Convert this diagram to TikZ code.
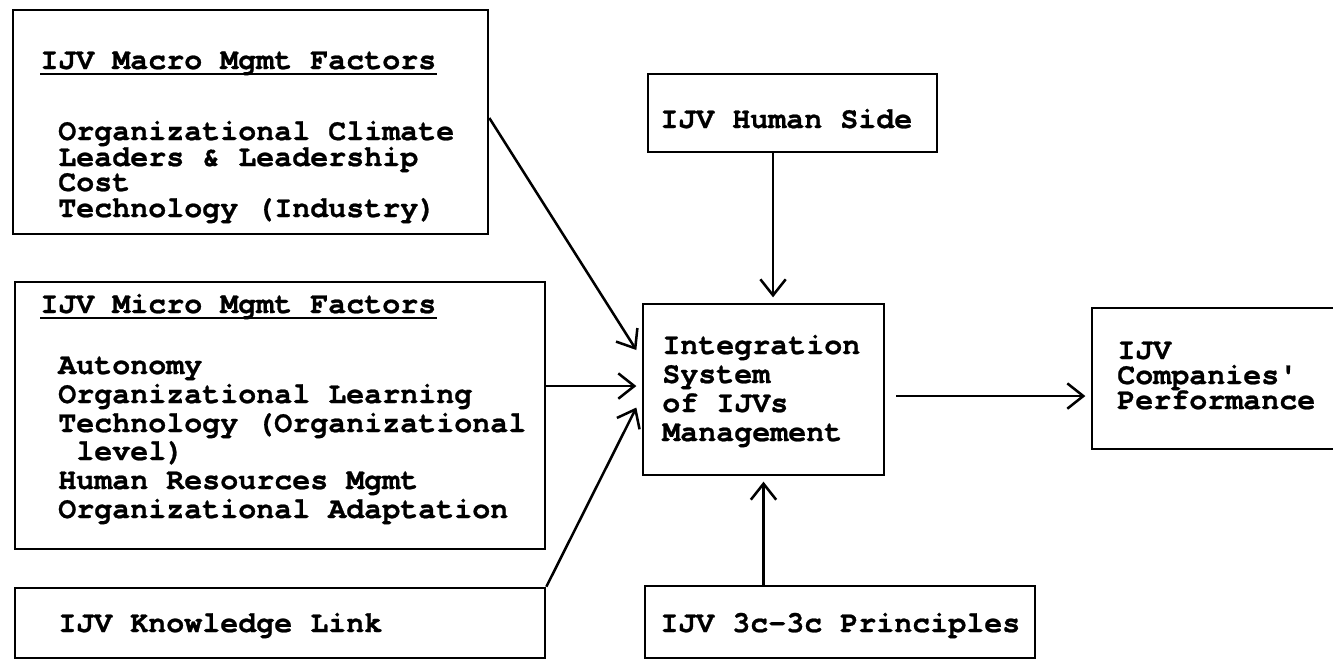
\documentclass[tikz,border=0pt]{standalone}
\usepackage{fontspec}
\newfontfamily\typefont{texgyrecursor}[Extension=.otf, UprightFont=*-regular, BoldFont=*-bold, BoldFeatures={FakeBold=0.8}]
\usetikzlibrary{arrows.meta}

\tikzset{
  ijvbox/.style={draw, line width=2pt, inner sep=0pt},
  txt/.style={anchor=base west, inner sep=0pt, font=\typefont\bfseries\fontsize{22.5pt}{26pt}\selectfont},
  arr/.style={line width=1.9pt, -{Straight Barb[length=12pt,width=19pt]}},
  uline/.style={line width=1.6pt}
}

\begin{document}
\begin{tikzpicture}[x=0.75pt,y=-0.75pt]

\clip (0,0) rectangle (1333,661);

% Boxes
\node[ijvbox, minimum width=356.25pt, minimum height=168pt] (macro) at (250.5,122) {};
\node[ijvbox, minimum width=397.5pt, minimum height=200.25pt] (micro) at (280,415.5) {};
\node[ijvbox, minimum width=397.5pt, minimum height=52.5pt] (knowledge) at (280,623) {};
\node[ijvbox, minimum width=216.75pt, minimum height=58.5pt] (human) at (792.5,113) {};
\node[ijvbox, minimum width=180.75pt, minimum height=128.25pt] (integ) at (763.5,389.5) {};
\node[ijvbox, minimum width=292.5pt, minimum height=54pt] (principles) at (840,622) {};
\node[ijvbox, minimum width=201pt, minimum height=105.75pt] (perf) at (1226,378.5) {};

% Macro factors
\node[txt] (mactitle) at (40,69) {IJV Macro Mgmt Factors};
\draw[uline] ([yshift=-4pt]mactitle.base west) -- ([yshift=-4pt]mactitle.base east);
\node[txt] (mac1) at (58,140) {Organizational Climate};
\node[txt] (mac2) at (58,166) {Leaders \& Leadership};
\node[txt] (mac3) at (58,191) {Cost};
\node[txt] (mac4) at (58,217) {Technology (Industry)};

% Micro factors
\node[txt] (mictitle) at (40,313) {IJV Micro Mgmt Factors};
\draw[uline] ([yshift=-4pt]mictitle.base west) -- ([yshift=-4pt]mictitle.base east);
\node[txt] (mic1) at (58,374) {Autonomy};
\node[txt] (mic2) at (58,403) {Organizational Learning};
\node[txt] (mic3) at (58,432) {Technology (Organizational};
\node[txt] (mic4) at (76,460) {level)};
\node[txt] (mic5) at (58,489) {Human Resources Mgmt};
\node[txt] (mic6) at (58,518) {Organizational Adaptation};

% Other labels
\node[txt] (knowtext) at (58,632) {IJV Knowledge Link};
\node[txt] (humantext) at (660,128) {IJV Human Side};
\node[txt] (princtext) at (660,632) {IJV 3c-3c Principles};

\node[txt] (integ1) at (662,354) {Integration};
\node[txt] (integ2) at (662,383) {System};
\node[txt] (integ3) at (662,412) {of IJVs};
\node[txt] (integ4) at (662,441) {Management};

\node[txt] (perf1) at (1117,359) {IJV};
\node[txt] (perf2) at (1117,384) {Companies'};
\node[txt] (perf3) at (1117,409) {Performance};

% Arrows
\draw[arr] ([yshift=3pt]macro.east) -- ([xshift=-4pt,yshift=29.6pt]integ.west);
\draw[arr] ([yshift=2.6pt]integ.west -| micro.east) -- ([xshift=-4pt,yshift=2.6pt]integ.west);
\draw[arr] (knowledge.north east) -- ([xshift=-4pt,yshift=-13.5pt]integ.west);
\draw[arr, shorten >=4pt] ([xshift=-14.6pt]human.south) -- ([xshift=-14.6pt]human.south |- integ.north);
\draw[arr, shorten >=4pt] (integ.south |- principles.north) -- (integ.south);
\draw[arr, shorten >=4pt] ([xshift=8pt,yshift=-4.9pt]integ.east) -- ([yshift=-4.9pt]integ.east -| perf.west);

\end{tikzpicture}
\end{document}
